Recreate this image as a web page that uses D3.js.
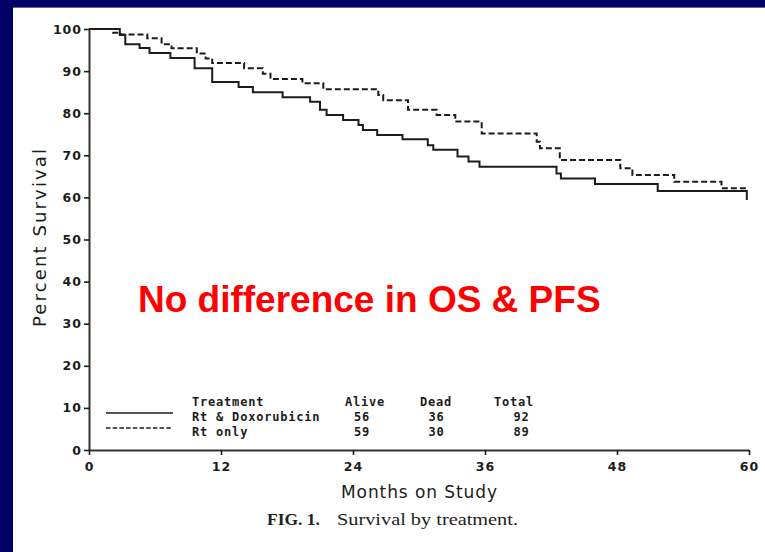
<!DOCTYPE html>
<html>
<head>
<meta charset="utf-8">
<script src="https://cdn.jsdelivr.net/npm/d3@7"></script>
<style>
  html, body { margin: 0; padding: 0; background: #000066; }
  svg { display: block; }
</style>
</head>
<body>
<svg id="chart" width="765" height="552"></svg>
<script>
// Kaplan–Meier survival by treatment arm (months on study, percent surviving)
const solidMonths   = [0, 2.8, 3.3, 4.6, 5.5, 7.4, 9.6, 11.2, 13.6, 14.9, 17.6, 20.1, 21.0, 21.6, 23.1, 24.5, 24.9, 26.2, 28.5, 30.8, 31.3, 33.5, 34.5, 35.5, 42.5, 42.9, 46.0, 51.7, 59.8];
const solidSurvival = [100, 98.6, 96.4, 95.5, 94.3, 93.1, 90.7, 87.4, 86.2, 85.0, 83.8, 82.7, 80.8, 79.6, 78.4, 77.2, 76.0, 74.8, 73.8, 72.4, 71.3, 69.7, 68.5, 67.3, 65.7, 64.5, 63.2, 61.5, 59.4];

const dashedMonths   = [0, 2.2, 2.9, 5.3, 6.6, 7.5, 9.8, 10.6, 11.2, 14.1, 15.8, 16.5, 19.4, 21.3, 26.3, 26.75, 29.0, 31.6, 33.3, 35.7, 40.7, 41.0, 42.8, 48.3, 49.4, 53.2, 57.5, 59.8];
const dashedSurvival = [100, 99.1, 98.7, 97.8, 96.4, 95.4, 94.2, 93.0, 91.9, 90.7, 89.4, 88.1, 87.1, 85.7, 84.3, 83.1, 80.8, 79.6, 78.0, 75.2, 73.2, 71.7, 68.9, 66.9, 65.3, 63.7, 62.2, 62.2];

const xTicks = [0, 12, 24, 36, 48, 60];
const yTicks = [0, 10, 20, 30, 40, 50, 60, 70, 80, 90, 100];

// Legend table
const tableHeader = ["Treatment", "Alive", "Dead", "Total"];
const treatments  = ["Rt & Doxorubicin", "Rt only"];
const alive       = [56, 59];
const dead        = [36, 30];
const total       = [92, 89];

const svg = d3.select("#chart");
const W = 765, H = 552;

// Slide frame: navy border with white content panel
svg.append("rect").attr("width", W).attr("height", H).attr("fill", "#000066");
svg.append("rect").attr("x", 13).attr("y", 8).attr("width", W - 13).attr("height", H - 8).attr("fill", "#ffffff");
svg.append("line").attr("x1", 13).attr("x2", W).attr("y1", 7.5).attr("y2", 7.5)
  .attr("stroke", "#4a68a8").attr("stroke-width", 1);

const x = d3.scaleLinear().domain([0, 60]).range([89, 749]);
const y = d3.scaleLinear().domain([0, 100]).range([450, 29]);

const ink = "#1c1c1c";
const tickFont = "'DejaVu Sans', sans-serif";

// Y axis
const yAxis = svg.append("g")
  .attr("transform", `translate(${x(0)},0)`)
  .call(d3.axisLeft(y).tickValues(yTicks).tickSize(5).tickSizeOuter(0).tickPadding(2));
yAxis.select(".domain").attr("stroke", "#333").attr("stroke-width", 2);
yAxis.selectAll(".tick line").attr("stroke", ink).attr("stroke-width", 1.6);
yAxis.selectAll(".tick text")
  .attr("fill", ink)
  .style("font-family", tickFont).style("font-weight", "bold")
  .style("font-size", "12.5px").style("letter-spacing", "1px");

// X axis
const xAxis = svg.append("g")
  .attr("transform", `translate(0,${y(0)})`)
  .call(d3.axisBottom(x).tickValues(xTicks).tickSize(5).tickSizeOuter(0).tickPadding(7));
xAxis.select(".domain").attr("stroke", "#333").attr("stroke-width", 1.8);
xAxis.selectAll(".tick line").attr("stroke", ink).attr("stroke-width", 1.6);
xAxis.selectAll(".tick text")
  .attr("fill", ink)
  .style("font-family", tickFont).style("font-weight", "bold")
  .style("font-size", "12.5px").style("letter-spacing", "1px");

// Survival curves (step functions)
const step = d3.line().x(d => x(d[0])).y(d => y(d[1])).curve(d3.curveStepAfter);
const solidPts  = solidMonths.map((m, i) => [m, solidSurvival[i]]);
const dashedPts = dashedMonths.map((m, i) => [m, dashedSurvival[i]]);

svg.append("path").datum(dashedPts).attr("d", step)
  .attr("fill", "none").attr("stroke", ink).attr("stroke-width", 2)
  .attr("stroke-dasharray", "6,3");
svg.append("path").datum(solidPts).attr("d", step)
  .attr("fill", "none").attr("stroke", ink).attr("stroke-width", 2);

// Axis titles
svg.append("text")
  .attr("transform", `translate(46,238) rotate(-90)`)
  .attr("text-anchor", "middle")
  .attr("textLength", 178).attr("lengthAdjust", "spacing")
  .style("font-family", "'DejaVu Sans', sans-serif").style("font-size", "18px")
  .attr("fill", ink)
  .text("Percent Survival");

svg.append("text")
  .attr("x", 419).attr("y", 498)
  .attr("text-anchor", "middle")
  .attr("textLength", 156).attr("lengthAdjust", "spacing")
  .style("font-family", "'DejaVu Sans', sans-serif").style("font-size", "17px")
  .attr("fill", ink)
  .text("Months on Study");

// Figure caption
svg.append("text")
  .attr("x", 267).attr("y", 525)
  .attr("textLength", 53).attr("lengthAdjust", "spacingAndGlyphs")
  .style("font-family", "'Liberation Serif', serif").style("font-size", "17px").style("font-weight", "bold")
  .attr("fill", "#222")
  .text("FIG. 1.");
svg.append("text")
  .attr("x", 337).attr("y", 525)
  .attr("textLength", 181).attr("lengthAdjust", "spacingAndGlyphs")
  .style("font-family", "'Liberation Serif', serif").style("font-size", "17px")
  .attr("fill", "#222")
  .text("Survival by treatment.");

// Legend with counts table
const legendFont = "'DejaVu Sans Mono', monospace";
const rowY = [406, 421, 436];
const colX = { name: 192, alive: 362, dead: 436.5, total: 521.5 };
const leg = svg.append("g")
  .style("font-family", legendFont).style("font-size", "12px")
  .style("font-weight", "bold").style("letter-spacing", "0.8px")
  .attr("fill", ink);

leg.append("text").attr("x", colX.name).attr("y", rowY[0]).text(tableHeader[0]);
leg.append("text").attr("x", 345).attr("y", rowY[0]).text(tableHeader[1]);
leg.append("text").attr("x", 420).attr("y", rowY[0]).text(tableHeader[2]);
leg.append("text").attr("x", 494).attr("y", rowY[0]).text(tableHeader[3]);

treatments.forEach((t, i) => {
  const yy = rowY[i + 1];
  leg.append("line")
    .attr("x1", 106).attr("x2", 173).attr("y1", yy - 8).attr("y2", yy - 8)
    .attr("stroke", ink).attr("stroke-width", 1.6)
    .attr("stroke-dasharray", i === 0 ? null : "4.5,2.2");
  leg.append("text").attr("x", colX.name).attr("y", yy).text(t);
  leg.append("text").attr("x", colX.alive).attr("y", yy).attr("text-anchor", "middle").text(alive[i]);
  leg.append("text").attr("x", colX.dead).attr("y", yy).attr("text-anchor", "middle").text(dead[i]);
  leg.append("text").attr("x", colX.total).attr("y", yy).attr("text-anchor", "middle").text(total[i]);
});

// Slide annotation
svg.append("text")
  .attr("x", 138).attr("y", 312)
  .style("font-family", "'Liberation Sans', Arial, sans-serif")
  .style("font-size", "37px").style("font-weight", "bold")
  .attr("fill", "#ff0000")
  .text("No difference in OS & PFS");
</script>
</body>
</html>
